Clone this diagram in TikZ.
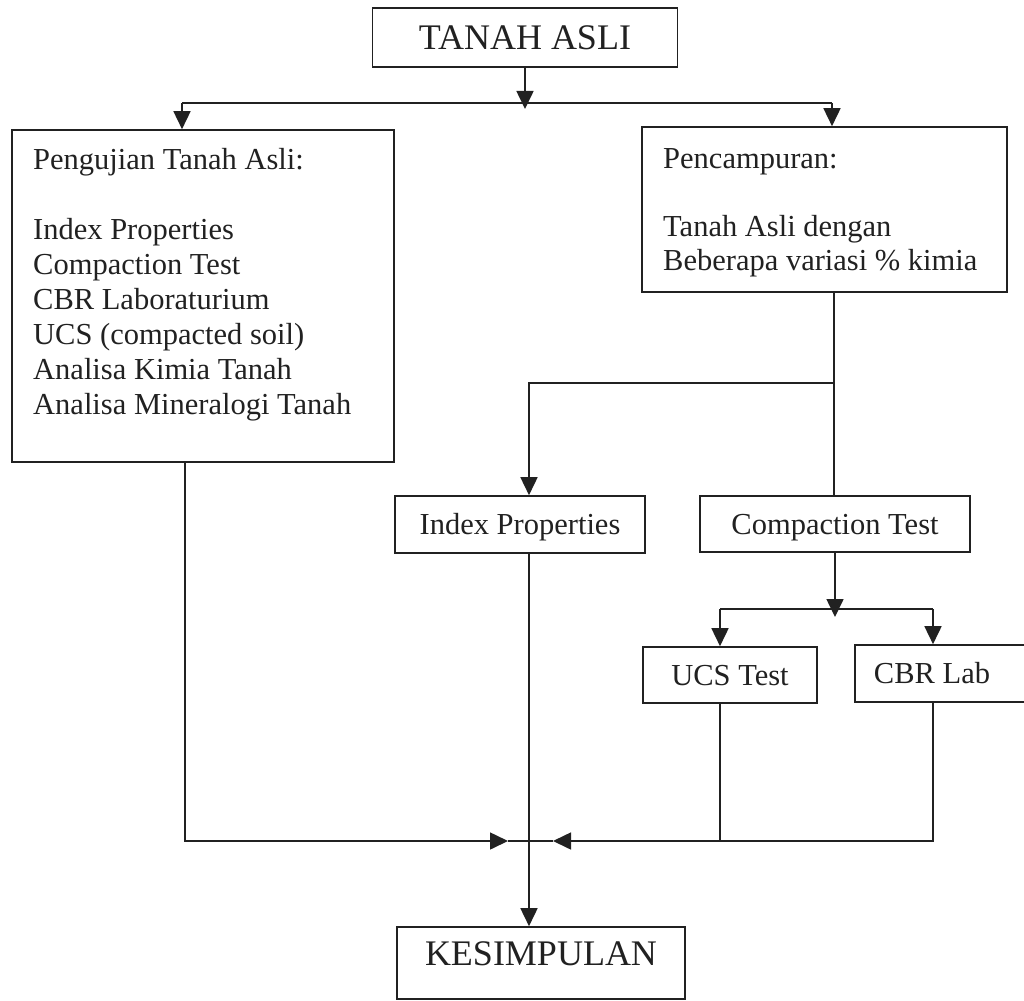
\documentclass[tikz,border=0pt]{standalone}
\usepackage{fontspec}
\setmainfont{Liberation Serif}
\usetikzlibrary{arrows.meta}
\newcommand\bodyf{\fontsize{30.5}{35}\selectfont}
\newcommand\bodyg{\fontsize{30.5}{34}\selectfont}
\newcommand\titlef{\fontsize{36}{40}\selectfont}
\definecolor{ink}{gray}{0.13}
\begin{document}
\begin{tikzpicture}[x=1pt,y=-1pt,
  box/.style={draw=ink, line width=1.6pt, inner sep=0pt, text=ink},
  one/.style={font=\bodyf, text height=20.2pt, text depth=0pt},
  big/.style={font=\titlef, text height=23.8pt, text depth=0pt},
  txt/.style={inner sep=0pt, align=left, text=ink, anchor=north west},
  ln/.style={draw=ink, line width=1.6pt},
  arr/.style={ln, -{Triangle[length=18pt,width=17pt]}}]
\clip (0,0) rectangle (1024,1000);
\fill[white] (0,0) rectangle (1024,1000);
% boxes
\node[box, big, minimum width=305, minimum height=59] (tanah) at (525,37.5) {TANAH ASLI};
\node[box, minimum width=382, minimum height=332] (uji) at (203,296) {};
\node[txt, font=\bodyf] (ujiT) at (33,148) {Pengujian Tanah Asli:\\[35pt]Index Properties\\Compaction Test\\CBR Laboraturium\\UCS (compacted soil)\\Analisa Kimia Tanah\\Analisa Mineralogi Tanah};
\node[box, minimum width=365, minimum height=165] (campur) at (824.5,209.5) {};
\node[txt, font=\bodyg] (campurT) at (663,148) {Pencampuran:\\[34pt]Tanah Asli dengan\\Beberapa variasi \% kimia};
\node[box, one, minimum width=250, minimum height=57] (idx) at (520,524.5) {Index Properties};
\node[box, one, minimum width=270, minimum height=56] (comp) at (835,524) {Compaction Test};
\node[box, one, minimum width=174, minimum height=56] (ucs) at (730,675) {UCS Test};
\node[box, minimum width=175, minimum height=57] (cbr) at (942.5,673.5) {};
\node[one, inner sep=0pt, text=ink] (cbrT) at (932,673.5) {CBR Lab};
\node[box, font=\titlef, text height=23.8pt, text depth=18pt, minimum width=288, minimum height=72] (kes) at (541,963) {KESIMPULAN};
% top split
\coordinate (tL) at (182,103);
\coordinate (tR) at (832,103);
\coordinate (tTip) at (525,109);
\draw[ln] (tL) -- (tR);
\draw[arr] (tanah.south) -- (tTip);
\draw[arr] (tL) -- (tL |- uji.north);
\draw[arr] (tR) -- (tR |- campur.north);
% from Pencampuran
\coordinate (vC) at (834,383);
\coordinate (vI) at (529,383);
\draw[ln] (vC |- campur.south) -- (vC) -- (vC |- comp.north);
\draw[arr] (vC) -- (vI) -- (vI |- idx.north);
% compaction split
\coordinate (sTip) at (835,617);
\coordinate (sL) at (720,609);
\coordinate (sR) at (933,609);
\draw[ln] (sL) -- (sR);
\draw[arr] (comp.south) -- (sTip);
\draw[arr] (sL) -- (sL |- ucs.north);
\draw[arr] (sR) -- (sR |- cbr.north);
% bottom merge
\coordinate (bL) at (185,841);
\coordinate (bR) at (933,841);
\coordinate (bU) at (720,841);
\coordinate (mL) at (508,841);
\coordinate (mR) at (553,841);
\coordinate (mC) at (529,841);
\draw[arr] (bL |- uji.south) -- (bL) -- (mL);
\draw[ln] (mL) -- (mC);
\draw[arr] (bR |- cbr.south) -- (bR) -- (mR);
\draw[ln] (mR) -- (mC);
\draw[ln] (bU |- ucs.south) -- (bU);
\draw[arr] (mC |- idx.south) -- (mC |- kes.north);
\end{tikzpicture}
\end{document}
